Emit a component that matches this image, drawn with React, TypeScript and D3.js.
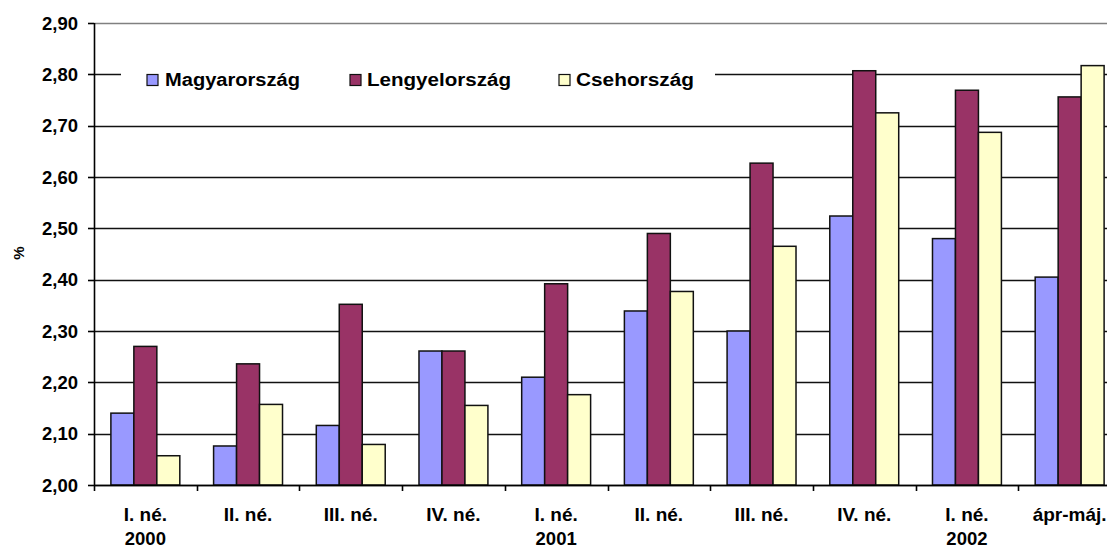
import React from "react";
import * as d3 from "d3";

const categories = ["c1", "c2", "c3", "c4", "c5", "c6", "c7", "c8", "c9", "c10"];
const labelLine1 = ["I. né.", "II. né.", "III. né.", "IV. né.", "I. né.", "II. né.", "III. né.", "IV. né.", "I. né.", "ápr-máj."];
const labelLine2 = ["2000", "", "", "", "2001", "", "", "", "2002", ""];
const seriesNames = ["Magyarország", "Lengyelország", "Csehország"];
const magyar = [2.14, 2.076, 2.116, 2.261, 2.21, 2.339, 2.30, 2.524, 2.48, 2.405];
const lengyel = [2.27, 2.236, 2.352, 2.261, 2.392, 2.49, 2.627, 2.807, 2.769, 2.756];
const cseh = [2.057, 2.157, 2.079, 2.155, 2.176, 2.377, 2.465, 2.725, 2.687, 2.817];
const yTicks = [2.0, 2.1, 2.2, 2.3, 2.4, 2.5, 2.6, 2.7, 2.8, 2.9];
const colors = ["#9999FF", "#993366", "#FFFFCC"];

const W = 1107;
const H = 550;
const left = 94;
const right = 1121;
const top = 23;
const bottom = 485;
const font = "'Liberation Sans', Arial, sans-serif";

export default function App() {
  const series = [magyar, lengyel, cseh];
  const x0 = d3.scaleBand<string>().domain(categories).range([left, right]).padding(0);
  const x1 = d3
    .scaleBand<string>()
    .domain(seriesNames)
    .range([0, x0.bandwidth()])
    .paddingInner(0)
    .paddingOuter(0.735);
  const y = d3.scaleLinear().domain([2.0, 2.9]).range([bottom, top]);
  const fmt = (v: number) => v.toFixed(2).replace(".", ",");

  const legendItems = [
    { sx: 147, tx: 165, tw: 135 },
    { sx: 350, tx: 367, tw: 144 },
    { sx: 559, tx: 576, tw: 118 },
  ];

  return (
    <svg
      width={W}
      height={H}
      style={{ position: "absolute", left: 0, top: 0, background: "#fff" }}
      fontFamily={font}
    >
      <rect x={0} y={0} width={W} height={H} fill="#fff" />
      {/* gridlines */}
      {yTicks.map((t) => (
        <line
          key={t}
          x1={left}
          x2={W}
          y1={Math.round(y(t)) + 0.5}
          y2={Math.round(y(t)) + 0.5}
          stroke={t === 2.9 ? "#808080" : "#111"}
          strokeWidth={t === 2.9 ? 1.5 : 1.6}
        />
      ))}
      {/* legend background */}
      <rect x={121} y={64} width={594} height={30} fill="#fff" />
      {/* bars */}
      {series.map((vals, si) =>
        vals.map((v, i) => {
          const xb = (x0(categories[i]) as number) + (x1(seriesNames[si]) as number);
          return (
            <rect
              key={`${si}-${i}`}
              x={xb}
              y={y(v)}
              width={x1.bandwidth()}
              height={bottom - y(v)}
              fill={colors[si]}
              stroke="#111"
              strokeWidth={1.5}
            />
          );
        })
      )}
      {/* axes */}
      <line x1={left + 0.5} x2={left + 0.5} y1={top} y2={bottom} stroke="#000" strokeWidth={1.6} />
      <line x1={left} x2={W} y1={bottom + 0.5} y2={bottom + 0.5} stroke="#000" strokeWidth={1.6} />
      {yTicks.map((t) => (
        <g key={"yt" + t}>
          <line x1={left - 6} x2={left} y1={Math.round(y(t)) + 0.5} y2={Math.round(y(t)) + 0.5} stroke="#000" strokeWidth={1.6} />
          <text
            x={78}
            y={y(t)}
            dy="0.36em"
            textAnchor="end"
            fontSize={18.5}
            fontWeight="bold"
            fill="#000"
          >
            {fmt(t)}
          </text>
        </g>
      ))}
      {categories.map((c) => (
        <line
          key={"xt" + c}
          x1={Math.round(x0(c) as number) + 0.5}
          x2={Math.round(x0(c) as number) + 0.5}
          y1={bottom}
          y2={bottom + 6}
          stroke="#000"
          strokeWidth={1.6}
        />
      ))}
      {categories.map((c, i) => {
        const cx = (x0(c) as number) + x0.bandwidth() / 2;
        return (
          <g key={"xl" + c}>
            <text x={cx} y={521} textAnchor="middle" fontSize={19} fontWeight="bold" fill="#000">
              {labelLine1[i]}
            </text>
            {labelLine2[i] && (
              <text x={cx} y={545} textAnchor="middle" fontSize={18.5} fontWeight="bold" fill="#000">
                {labelLine2[i]}
              </text>
            )}
          </g>
        );
      })}
      {/* y axis title */}
      <text
        transform={`translate(24,253) rotate(-90)`}
        textAnchor="middle"
        fontSize={15}
        fontWeight="bold"
        fill="#000"
      >
        %
      </text>
      {/* legend */}
      {seriesNames.map((s, i) => (
        <g key={"lg" + s}>
          <rect x={legendItems[i].sx} y={74.5} width={11} height={11} fill={colors[i]} stroke="#111" strokeWidth={1.2} />
          <text
            x={legendItems[i].tx}
            y={80}
            dy="0.36em"
            fontSize={17.5}
            fontWeight="bold"
            fill="#000"
            textLength={legendItems[i].tw}
            lengthAdjust="spacingAndGlyphs"
          >
            {s}
          </text>
        </g>
      ))}
    </svg>
  );
}
